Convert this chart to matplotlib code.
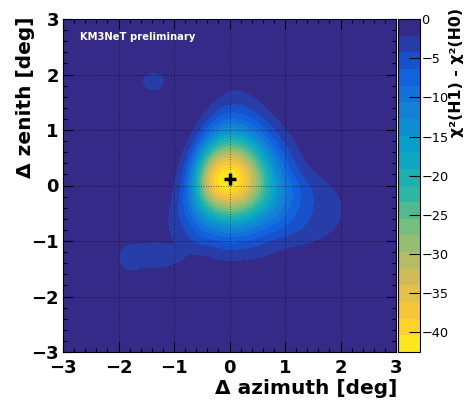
import numpy as np
import matplotlib
matplotlib.use("Agg")
import matplotlib.pyplot as plt
from matplotlib.colors import LinearSegmentedColormap, ListedColormap, BoundaryNorm
from matplotlib.ticker import MultipleLocator

plt.rcParams['font.family'] = ['DejaVu Sans']

# ROOT "kBird" palette
bird_stops = [0.0, 0.125, 0.25, 0.375, 0.5, 0.625, 0.75, 0.875, 1.0]
bird_r = [0.2082, 0.0592, 0.0780, 0.0232, 0.1802, 0.5301, 0.8186, 0.9956, 0.9764]
bird_g = [0.1664, 0.3599, 0.5041, 0.6419, 0.7178, 0.7492, 0.7328, 0.7862, 0.9832]
bird_b = [0.5293, 0.8684, 0.8385, 0.7914, 0.6425, 0.4662, 0.3499, 0.1968, 0.0539]

# best-fit direction
best_fit_x = [0.0]
best_fit_y = [0.11]

# colour scale of the likelihood difference
z_min = -42.5
n_levels = 20
cbar_ticks = [-40, -35, -30, -25, -20, -15, -10, -5, 0]
axis_ticks = [-3, -2, -1, 0, 1, 2, 3]

# central minimum: depth, widths (left, right, down, up), flattening of
# its profile towards negative azimuth, narrowing with zenith
core_depth = -37.5
core_sigma = [0.45, 0.545, 0.559, 0.573]
core_left_flat = 0.5
core_taper = 0.12

# wide shallow component under the minimum
wide_depth = -5.0
wide_x, wide_y = 0.15, 0.15
wide_sigma = [0.7, 0.8, 0.85, 1.0]
wide_taper = 0.35

# flat shallow shoulders (right lobe, lower-left, tail towards negative
# azimuth, its end, isolated spot at upper left)
shoulder_amp = [-2.0, -1.6, -2.6, -2.5, -2.6]
shoulder_x = [1.45, -0.75, -1.45, -1.75, -1.37]
shoulder_y = [-0.42, -0.75, -1.27, -1.3, 1.87]
shoulder_wx = [0.8, 0.4, 0.7, 0.36, 0.3]
shoulder_wy = [0.65, 0.55, 0.3, 0.34, 0.24]

# ---- surface on a grid ----
gx = np.linspace(-3, 3, 401)
gy = np.linspace(-3, 3, 401)
X, Y = np.meshgrid(gx, gy)


def scaled(x0, y0, sig, taper):
    sl, sr, sd, su = sig
    dx, dy = X - x0, Y - y0
    f = np.clip(1.0 - taper * dy, 0.3, 1.8)
    u = dx / (np.where(dx < 0, sl, sr) * f)
    v = dy / np.where(dy < 0, sd, su)
    return u, v


u, v = scaled(best_fit_x[0], best_fit_y[0], core_sigma, core_taper)
r2 = u ** 2 + v ** 2
k = 1.0 + core_left_flat * np.minimum(u, 0) ** 2 / np.maximum(r2, 1e-12)
Z = core_depth * np.exp(-(0.5 * r2) ** k)

u, v = scaled(wide_x, wide_y, wide_sigma, wide_taper)
Z += wide_depth * np.exp(-0.5 * (u ** 2 + v ** 2))

shoulders = np.zeros_like(Z)
for a, x0, y0, wx, wy in zip(shoulder_amp, shoulder_x, shoulder_y,
                             shoulder_wx, shoulder_wy):
    q2 = ((X - x0) / wx) ** 2 + ((Y - y0) / wy) ** 2
    shoulders = np.minimum(shoulders, a * np.exp(-q2 ** 2))
Z += shoulders
Z = np.clip(Z, z_min + 1e-6, -1e-9)

# ---- colours: inverted palette, ROOT-style band sampling ----
bird = LinearSegmentedColormap.from_list(
    'bird', list(zip(bird_stops, zip(bird_r, bird_g, bird_b))), N=255)
band_colors = [bird(1.0 - (i + 0.99) / n_levels) for i in range(n_levels)]
cmap = ListedColormap(band_colors)
levels = np.linspace(z_min, 0, n_levels + 1)
norm = BoundaryNorm(levels, n_levels)

W, H = 470, 400
fig = plt.figure(figsize=(W / 100, H / 100), dpi=100)
ax = fig.add_axes([63 / W, 48 / H, 333 / W, 333 / H])
cax = fig.add_axes([398 / W, 48 / H, 22 / W, 333 / H])

ax.set_facecolor(band_colors[-1])
cs = ax.contourf(X, Y, Z, levels=levels, cmap=cmap, norm=norm)
ax.plot(best_fit_x, best_fit_y, linestyle='none', marker='+',
        color='black', markersize=8, markeredgewidth=2.5, zorder=5)

ax.set_xlim(-3, 3)
ax.set_ylim(-3, 3)
ax.set_xticks(axis_ticks)
ax.set_yticks(axis_ticks)
ax.xaxis.set_minor_locator(MultipleLocator(0.2))
ax.yaxis.set_minor_locator(MultipleLocator(0.2))
ax.tick_params(which='both', direction='in', top=True, right=True,
               colors='black', width=0.8)
ax.tick_params(which='major', length=7, labelsize=13)
ax.tick_params(which='minor', length=3)
ax.tick_params(axis='x', pad=5)
ax.tick_params(axis='y', pad=3)
for lab in ax.get_xticklabels() + ax.get_yticklabels():
    lab.set_fontweight('bold')
ax.set_axisbelow(False)
ax.grid(True, which='major', color='black', linestyle=(0, (1, 2)),
        linewidth=0.6, alpha=0.7)
for sp in ax.spines.values():
    sp.set_linewidth(0.8)

ax.text(0.051, 0.946, 'KM3NeT preliminary', transform=ax.transAxes,
        color='white', fontweight='bold', fontsize=7.2, va='center', ha='left')

cb = fig.colorbar(cs, cax=cax, ticks=cbar_ticks)
cb.ax.tick_params(direction='in', length=8, width=0.8, labelsize=9.3, pad=1)
cb.ax.minorticks_off()
cb.outline.set_linewidth(0.8)

fig.text(26 / W, 1 - 16 / H, 'Δ zenith [deg]', rotation=90, ha='center',
         va='top', fontsize=14.5, fontweight='bold')
fig.text(397 / W, 1 - 389 / H, 'Δ azimuth [deg]', ha='right', va='center',
         fontsize=14.5, fontweight='bold')
fig.text(457 / W, 1 - 8 / H, 'χ²(H1) - χ²(H0)', rotation=90, ha='center',
         va='top', fontsize=11.3, fontweight='bold')

fig.savefig('out.png', dpi=100)
